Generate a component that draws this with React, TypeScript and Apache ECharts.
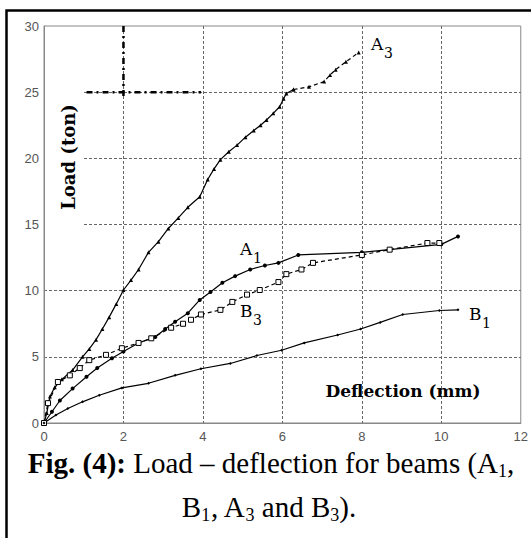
import React, { useEffect, useRef } from "react";
import * as echarts from "echarts";

// Load–deflection measurements: [deflection (mm), load (ton)]
const beamA3: number[][] = [
  [0, 0], [0.07, 0.75], [0.15, 2.0], [0.27, 2.7], [0.45, 3.3], [0.72, 4.0], [0.97, 5.0],
  [1.14, 5.6], [1.31, 6.3], [1.47, 7.1], [1.64, 8.0], [1.82, 9.0], [2.0, 10.05],
  [2.19, 10.8], [2.38, 11.6], [2.63, 12.9], [2.88, 13.7], [3.13, 14.7], [3.38, 15.5],
  [3.62, 16.3], [3.92, 17.1], [4.12, 18.4], [4.28, 19.2], [4.44, 19.9], [4.65, 20.5],
  [4.86, 21.0], [5.07, 21.6], [5.28, 22.1], [5.45, 22.5], [5.6, 22.9], [5.77, 23.4],
  [5.93, 23.9], [6.03, 24.5], [6.1, 24.9], [6.28, 25.2], [6.67, 25.4], [7.05, 25.8],
  [7.2, 26.3], [7.34, 26.7], [7.6, 27.3], [7.92, 28.0],
];
// A3 is drawn solid up to this deflection, dashed beyond it
const a3DashFrom = 6.28;

const beamA1: number[][] = [
  [0, 0], [0.2, 0.85], [0.4, 1.7], [0.72, 2.6], [1.07, 3.5], [1.34, 4.15], [1.71, 4.9],
  [2.0, 5.4], [2.38, 6.05], [2.8, 6.5], [3.05, 7.1], [3.3, 7.65], [3.62, 8.3],
  [3.92, 9.3], [4.19, 9.9], [4.49, 10.6], [4.81, 11.1], [5.19, 11.6], [5.56, 11.9],
  [5.9, 12.1], [6.4, 12.7], [8.0, 12.9], [10.0, 13.5], [10.42, 14.1],
];

const beamB3: number[][] = [
  [0, 0], [0.1, 1.5], [0.35, 3.1], [0.65, 3.6], [0.9, 4.15], [1.14, 4.75], [1.56, 5.15],
  [1.96, 5.65], [2.38, 6.05], [2.7, 6.4], [3.2, 7.2], [3.5, 7.5], [3.7, 7.8],
  [3.95, 8.2], [4.44, 8.55], [4.74, 9.15], [5.11, 9.7], [5.43, 10.05], [5.9, 10.65],
  [6.1, 11.25], [6.48, 11.6], [6.77, 12.1], [8.0, 12.7], [8.7, 13.1], [9.65, 13.6],
  [9.95, 13.6],
];

const beamB1: number[][] = [
  [0, 0], [0.3, 0.6], [0.6, 1.1], [0.97, 1.6], [1.39, 2.1], [1.96, 2.65], [2.63, 3.0],
  [3.3, 3.6], [3.95, 4.1], [4.69, 4.5], [5.36, 5.1], [5.98, 5.5], [6.55, 6.05],
  [7.39, 6.65], [7.97, 7.1], [8.46, 7.6], [9.03, 8.2], [9.95, 8.5], [10.42, 8.55],
];

// Reference guide lines (dash-dot) at deflection 2 mm and load 25 ton
const guideVertical: number[][] = [[2, 30], [2, 24.4]];
const guideHorizontal: number[][] = [[1.07, 25], [3.95, 25]];

const xTicks = { min: 0, max: 12, interval: 2 };
const yTicks = { min: 0, max: 30, interval: 5 };

const serif = "'DejaVu Serif', serif";
const times = "'Liberation Serif', 'Times New Roman', serif";

export default function App() {
  const ref = useRef<HTMLDivElement>(null);

  useEffect(() => {
    if (!ref.current) return;
    const chart = echarts.init(ref.current, null, { renderer: "svg" });

    const splitIdx = beamA3.findIndex((p) => p[0] >= a3DashFrom);
    const lineBase = { color: "#000", width: 1.2 };

    const axisCommon = {
      type: "value" as const,
      axisLine: { show: true, lineStyle: { color: "#888", width: 1 } },
      axisTick: { show: false },
      axisLabel: { color: "#555", fontFamily: "'Liberation Sans', Arial, sans-serif", fontSize: 13 },
      splitLine: {
        show: true,
        showMinLine: false,
        showMaxLine: false,
        lineStyle: { color: "#666", width: 1, type: [3, 2] },
      },
    };

    const curveLabel = (x: number, y: number, letter: string, digit: string) => [
      {
        type: "text",
        x,
        y,
        z: 10,
        style: { text: letter, font: `17px ${serif}`, fill: "#000", textVerticalAlign: "middle" },
      },
      {
        type: "text",
        x: x + 13,
        y: y + 9,
        z: 10,
        style: { text: digit, font: `14px ${serif}`, fill: "#000", textVerticalAlign: "middle" },
      },
    ];

    chart.setOption({
      animation: false,
      grid: {
        left: 44,
        top: 26,
        width: 483,
        height: 397,
        show: true,
        borderColor: "#888",
        borderWidth: 1,
        backgroundColor: "#fff",
      },
      xAxis: { ...axisCommon, ...xTicks, axisLabel: { ...axisCommon.axisLabel, margin: 7 } },
      yAxis: { ...axisCommon, ...yTicks, axisLabel: { ...axisCommon.axisLabel, margin: 5 } },
      series: [
        {
          name: "A3",
          type: "line",
          data: beamA3.slice(0, splitIdx + 1),
          symbol: "triangle",
          symbolSize: 4,
          itemStyle: { color: "#000" },
          lineStyle: lineBase,
          z: 3,
        },
        {
          name: "A3 (dashed)",
          type: "line",
          data: beamA3.slice(splitIdx),
          symbol: "triangle",
          symbolSize: 4,
          itemStyle: { color: "#000" },
          lineStyle: { ...lineBase, type: [4, 3] },
          z: 3,
        },
        {
          name: "A1",
          type: "line",
          data: beamA1,
          symbol: "circle",
          symbolSize: 4,
          itemStyle: { color: "#000" },
          lineStyle: lineBase,
          z: 3,
        },
        {
          name: "B3",
          type: "line",
          data: beamB3,
          symbol: "rect",
          symbolSize: 5,
          itemStyle: { color: "#fff", borderColor: "#000", borderWidth: 1 },
          lineStyle: { ...lineBase, type: [4, 3] },
          z: 3,
        },
        {
          name: "B1",
          type: "line",
          data: beamB1,
          symbol: "diamond",
          symbolSize: 3,
          itemStyle: { color: "#000" },
          lineStyle: lineBase,
          z: 3,
        },
        {
          name: "guide-v",
          type: "line",
          data: guideVertical,
          symbol: "none",
          lineStyle: { color: "#000", width: 2.5, type: [6, 4, 2, 4] },
          z: 2,
        },
        {
          name: "guide-h",
          type: "line",
          data: guideHorizontal,
          symbol: "none",
          lineStyle: { color: "#000", width: 2.5, type: [6, 4, 2, 4] },
          z: 2,
        },
      ],
      graphic: [
        // outer figure frame
        {
          type: "rect",
          shape: { x: 6.5, y: 10.5, width: 560, height: 560 },
          style: { fill: "none", stroke: "#000", lineWidth: 2.5 },
          z: 0,
        },
        // backing behind the vertical axis title
        {
          type: "rect",
          shape: { x: 45, y: 88, width: 38, height: 140 },
          style: { fill: "#fff" },
          z: 1,
        },
        {
          type: "text",
          x: 68,
          y: 157,
          rotation: Math.PI / 2,
          z: 10,
          style: {
            text: "Load (ton)",
            font: `bold 18px ${serif}`,
            fill: "#000",
            textAlign: "center",
            textVerticalAlign: "middle",
          },
        },
        {
          type: "text",
          x: 403,
          y: 391,
          z: 10,
          style: {
            text: "Deflection (mm)",
            font: `bold 17px ${serif}`,
            fill: "#000",
            textAlign: "center",
            textVerticalAlign: "middle",
          },
        },
        ...curveLabel(371, 44, "A", "3"),
        ...curveLabel(240, 249, "A", "1"),
        ...curveLabel(240, 311, "B", "3"),
        ...curveLabel(469, 314, "B", "1"),
        // caption
        {
          type: "text",
          x: 271,
          y: 463,
          z: 10,
          style: {
            text: "{b|Fig. (4): }{n|Load – deflection for beams (A}{s|1}{n|,}",
            textAlign: "center",
            textVerticalAlign: "middle",
            fill: "#000",
            rich: {
              b: { fontFamily: times, fontSize: 29, fontWeight: "bold", lineHeight: 34 },
              n: { fontFamily: times, fontSize: 29, lineHeight: 34 },
              s: { fontFamily: times, fontSize: 18, lineHeight: 24, verticalAlign: "bottom" },
            },
          },
        },
        {
          type: "text",
          x: 269,
          y: 507,
          z: 10,
          style: {
            text: "{n|B}{s|1}{n|, A}{s|3}{n| and B}{s|3}{n|).}",
            textAlign: "center",
            textVerticalAlign: "middle",
            fill: "#000",
            rich: {
              n: { fontFamily: times, fontSize: 29, lineHeight: 34 },
              s: { fontFamily: times, fontSize: 18, lineHeight: 24, verticalAlign: "bottom" },
            },
          },
        },
      ],
    });

    return () => chart.dispose();
  }, []);

  return (
    <div
      ref={ref}
      style={{ position: "absolute", left: 0, top: 0, width: 531, height: 538, background: "#fff" }}
    />
  );
}
